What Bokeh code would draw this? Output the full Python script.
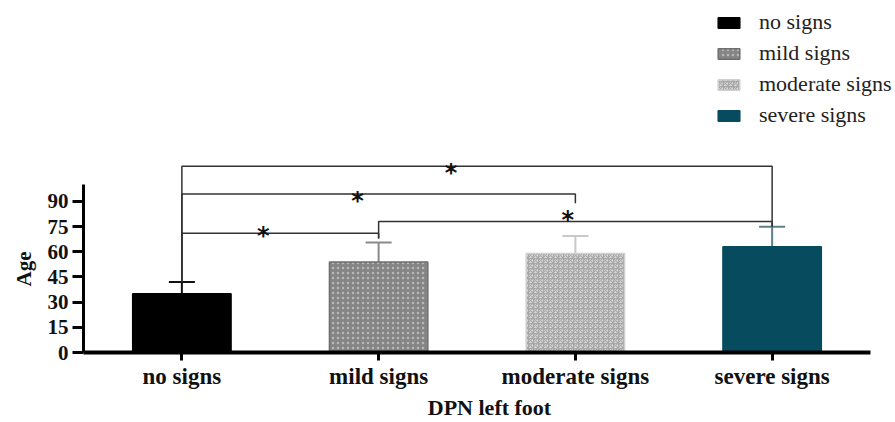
from bokeh.plotting import figure
from bokeh.models import ColumnDataSource, Range1d, FixedTicker, Legend, LegendItem, Title
from bokeh.embed import file_html
from bokeh.resources import INLINE
from bokeh.core.properties import value

# ---- data ----
categories = ["no signs", "mild signs", "moderate signs", "severe signs"]
mean_age = [35, 54, 59, 63]
sd_age = [7, 11.5, 10.5, 12]
y_ticks = [0, 15, 30, 45, 60, 75, 90]

# significance brackets
bracket_left = ["no signs", "mild signs", "no signs", "no signs"]
bracket_right = ["mild signs", "severe signs", "moderate signs", "severe signs"]
bracket_height = [71, 78, 94.5, 111]
bracket_left_end = [42, 68, 42, 42]
bracket_right_end = [68, 75, 89, 75]
bracket_mark = ["*", "*", "*", "*"]

# ---- styles ----
fill_colors = ["#000000", "#858585", "#dcdcdc", "#064b5e"]
line_colors = ["#000000", "#6e6e6e", "#d0d0d0", "#064b5e"]
hatch_patterns = [" ", "dot", "criss_cross", " "]
hatch_colors = ["#000000", "#b8b8b8", "#a8a8a8", "#064b5e"]
err_colors = ["#111111", "#8a8a8a", "#c8c8c8", "#5c7f8a"]
star_dx = [-17, -7.5, -21, -26]
star_dy = [3, -2, 7, 7]

pos = {c: i for i, c in enumerate(categories)}
xi = [pos[c] for c in categories]
upper = [m + s for m, s in zip(mean_age, sd_age)]

p = figure(x_range=Range1d(-0.5, 3.5 + 25 / 196.75), y_range=Range1d(0, 352 / 1.678),
           width=895, height=422, output_backend="svg", toolbar_location=None,
           min_border_left=83, min_border_right=0, min_border_top=0, min_border_bottom=70)
p.outline_line_color = None
p.grid.visible = False

src = ColumnDataSource(dict(x=xi, cat=categories, mean=mean_age, upper=upper, fill=fill_colors,
                            lcol=line_colors, hatch=hatch_patterns, hcol=hatch_colors, ecol=err_colors))

# error bars (upper only)
p.segment(x0="x", y0="mean", x1="x", y1="upper", line_color="ecol", line_width=2, source=src)
p.scatter(x="x", y="upper", marker="dash", size=26, line_color="ecol", line_width=2, source=src)

bars = p.vbar(x="x", top="mean", width=0.5, source=src, fill_color="fill", line_color="lcol",
              line_width=1.5, hatch_pattern="hatch", hatch_color="hcol", hatch_scale=5, hatch_weight=1.2)

# brackets
xs = [[pos[a], pos[a], pos[b], pos[b]] for a, b in zip(bracket_left, bracket_right)]
ys = [[la, h, h, rb] for la, h, rb in zip(bracket_left_end, bracket_height, bracket_right_end)]
p.multi_line(xs=xs, ys=ys, line_color="#333333", line_width=1.5)

star_x = [(pos[a] + pos[b]) / 2 for a, b in zip(bracket_left, bracket_right)]
p.text(x=star_x, y=bracket_height, text=bracket_mark, x_offset=star_dx, y_offset=star_dy,
       text_align="center", text_baseline="alphabetic", text_font=value("DejaVu Sans"),
       text_font_style="bold", text_font_size="24px", text_color="#111111")

# axes
for ax in (p.xaxis[0], p.yaxis[0]):
    ax.axis_line_color = "black"
    ax.major_tick_line_color = "black"
    ax.major_tick_line_width = 3
    ax.minor_tick_line_color = None
    ax.major_tick_in = 0
    ax.major_label_text_font = "Liberation Serif"
    ax.major_label_text_font_style = "bold"
    ax.major_label_text_color = "#111111"
    ax.axis_label_text_font = "Liberation Serif"
    ax.axis_label_text_font_style = "bold"
    ax.axis_label_text_color = "#111111"

p.xaxis.axis_line_width = 4
p.xaxis.bounds = (-0.5, 3.5)
p.xaxis.ticker = FixedTicker(ticks=xi)
p.xaxis.major_label_overrides = {i: c for i, c in zip(xi, categories)}
p.xaxis.major_tick_out = 8
p.xaxis.major_label_text_font_size = "23px"
p.xaxis.major_label_standoff = 3
p.xaxis.axis_label = "DPN left foot"
p.xaxis.axis_label_text_font_size = "22px"
p.xaxis.axis_label_standoff = 3

p.yaxis.axis_line_width = 3
p.yaxis.bounds = (0, 100)
p.yaxis.ticker = FixedTicker(ticks=y_ticks)
p.yaxis.major_tick_out = 11
p.yaxis.major_label_text_font_size = "21px"
p.yaxis.major_label_standoff = 4

age_title = Title(text="Age", align="left", offset=66, standoff=18,
                  text_font="Liberation Serif", text_font_style="bold",
                  text_font_size="21px", text_color="#111111")
p.add_layout(age_title, "left")

legend = Legend(items=[LegendItem(label=c, renderers=[bars], index=i) for i, c in enumerate(categories)],
                location=(632, 224), orientation="vertical")
legend.label_text_font = "Liberation Serif"
legend.label_text_font_size = "22px"
legend.label_text_color = "#222222"
legend.label_height = 22
legend.glyph_height = 13
legend.glyph_width = 27
legend.spacing = 5
legend.padding = 0
legend.margin = 0
legend.label_standoff = 17
legend.border_line_alpha = 0
legend.background_fill_alpha = 0
p.add_layout(legend)

open("out.html", "w").write(file_html(p, INLINE))
